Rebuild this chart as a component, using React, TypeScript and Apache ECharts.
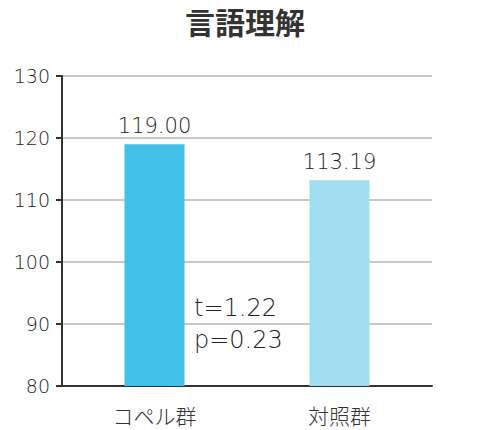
import { useEffect, useRef } from 'react';
import * as echarts from 'echarts';

const categories = ['コペル群', '対照群'];
const values = [119.0, 113.19];
const barColors = ['#42C0E9', '#A0DEF2'];
const statLines = ['t=1.22', 'p=0.23'];

const CJK = '"Noto Sans CJK JP", sans-serif';
const NUM = '"DejaVu Sans", sans-serif';

export default function App() {
  const ref = useRef<HTMLDivElement>(null);

  useEffect(() => {
    if (!ref.current) return;
    const chart = echarts.init(ref.current, undefined, { renderer: 'svg' });
    chart.setOption({
      animation: false,
      title: {
        text: '言語理解',
        left: 'center',
        top: 6,
        padding: 0,
        textStyle: { fontFamily: CJK, fontSize: 30, fontWeight: 'bold', color: '#333' },
      },
      grid: { left: 62, right: 58, top: 76, bottom: 44 },
      xAxis: {
        type: 'category',
        data: categories,
        axisLine: { lineStyle: { color: '#333', width: 2 } },
        axisTick: { show: false },
        axisLabel: { fontFamily: CJK, fontSize: 21, fontWeight: 300, color: '#333', margin: 18 },
      },
      yAxis: {
        type: 'value',
        min: 80,
        max: 130,
        interval: 10,
        axisLine: { show: true, lineStyle: { color: '#333', width: 2 } },
        axisTick: { show: true, length: 6, lineStyle: { color: '#333', width: 2 } },
        axisLabel: { fontFamily: NUM, fontSize: 19, fontWeight: 200, color: '#222', margin: 12 },
        splitLine: { lineStyle: { color: '#C8C8C8', width: 2 } },
      },
      series: [
        {
          type: 'bar',
          barWidth: 60,
          data: values.map((v, i) => ({ value: v, itemStyle: { color: barColors[i] } })),
          label: {
            show: true,
            position: 'top',
            distance: 8,
            formatter: (p: { value: number }) => p.value.toFixed(2),
            fontFamily: NUM,
            fontSize: 21,
            fontWeight: 200,
            color: '#222',
          },
        },
      ],
      graphic: [
        {
          type: 'text',
          left: 194,
          top: 292,
          style: {
            text: statLines.join('\n'),
            fontFamily: NUM,
            fontSize: 24,
            fontWeight: 200,
            lineHeight: 32,
            fill: '#222',
          },
        },
      ],
    });
    return () => chart.dispose();
  }, []);

  return (
    <div
      ref={ref}
      style={{ position: 'fixed', left: 0, top: 0, width: 490, height: 430, background: '#fff' }}
    />
  );
}
